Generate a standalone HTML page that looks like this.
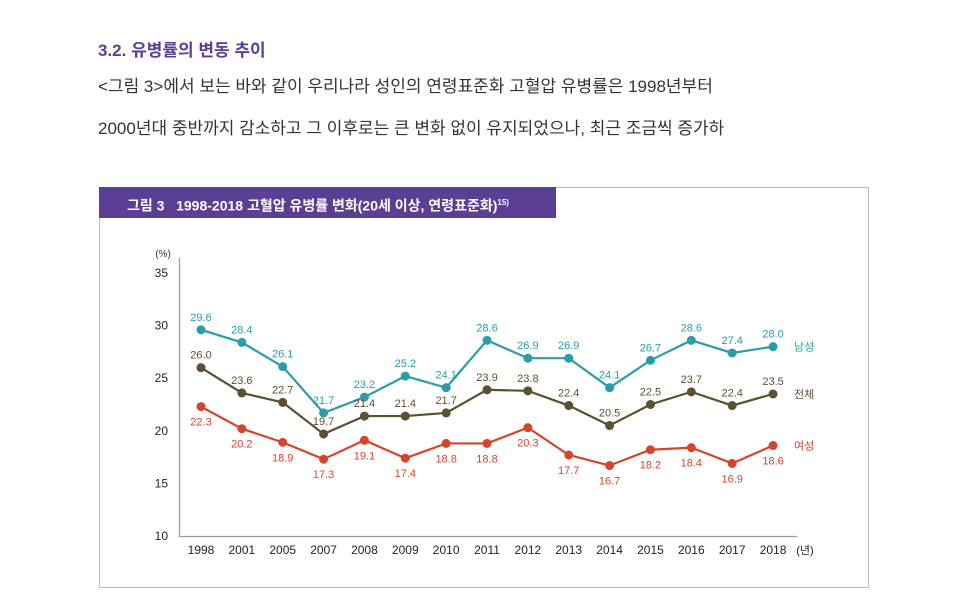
<!DOCTYPE html>
<html><head><meta charset="utf-8"><style>
body{margin:0;width:966px;height:595px;background:#fff;font-family:"Liberation Sans","Noto Sans CJK KR",sans-serif;position:relative;overflow:hidden}
.t{position:absolute;white-space:nowrap}
</style></head><body>
<div class="t" style="left:98px;top:36px;font-size:17px;font-weight:bold;color:#5b3f94">3.2. 유병률의 변동 추이</div>
<div class="t" style="left:98px;top:72px;font-size:17px;color:#333">&lt;그림 3&gt;에서 보는 바와 같이 우리나라 성인의 연령표준화 고혈압 유병률은 1998년부터</div>
<div class="t" style="left:98px;top:114px;font-size:17px;color:#333">2000년대 중반까지 감소하고 그 이후로는 큰 변화 없이 유지되었으나, 최근 조금씩 증가하</div>
<div style="position:absolute;left:99px;top:187px;width:768px;height:399px;border:1px solid #bbb"></div>
<div class="t" style="left:99px;top:187px;width:457px;height:31px;background:#5b3f94;color:#fff;font-size:14px;font-weight:bold;line-height:31px;padding-left:28px;box-sizing:border-box">그림 3&nbsp;&nbsp;&nbsp;1998-2018 고혈압 유병률 변화(20세 이상, 연령표준화)<sup style="font-size:8px">15)</sup></div>
<svg id="c" width="966" height="595" style="position:absolute;left:0;top:0"></svg>
<script>
const years=["1998","2001","2005","2007","2008","2009","2010","2011","2012","2013","2014","2015","2016","2017","2018"];
const male=[29.6,28.4,26.1,21.7,23.2,25.2,24.1,28.6,26.9,26.9,24.1,26.7,28.6,27.4,28.0];
const total=[26.0,23.6,22.7,19.7,21.4,21.4,21.7,23.9,23.8,22.4,20.5,22.5,23.7,22.4,23.5];
const female=[22.3,20.2,18.9,17.3,19.1,17.4,18.8,18.8,20.3,17.7,16.7,18.2,18.4,16.9,18.6];
const yTicks=[10,15,20,25,30,35];
const seriesNames=["남성","전체","여성"];
const svg=document.getElementById('c');const NS='http://www.w3.org/2000/svg';
const x=i=>201+i*40.86, y=v=>536-(v-10)*10.52;
function mk(t,a){const e=document.createElementNS(NS,t);for(const k in a)e.setAttribute(k,a[k]);svg.appendChild(e);return e;}
let ax=mk('path',{d:'M179.5 258 V536.5 H797',stroke:'#999',fill:'none','stroke-width':1.2});


let u=mk('text',{x:163,y:257,'font-size':10,fill:'#333','text-anchor':'middle'});u.textContent='(%)';


yTicks.forEach(v=>{const t=mk('text',{x:168,y:y(v)+4,'font-size':12,fill:'#222','text-anchor':'end'});t.textContent=v;

});
years.forEach((yr,i)=>{const t=mk('text',{x:x(i),y:554,'font-size':12,fill:'#222','text-anchor':'middle'});t.textContent=yr;

});
let xu=mk('text',{x:805,y:554,'font-size':11,fill:'#222','text-anchor':'middle'});xu.textContent='(년)';


const S=[[male,'#2a9da8',-9,'male'],[total,'#5b5030',-9,'total'],[female,'#d5452d',19,'female']];
S.forEach(([d,c,off,n],si)=>{
 const l=mk('polyline',{points:d.map((v,i)=>x(i)+','+y(v)).join(' '),fill:'none',stroke:c,'stroke-width':2.2});
 
 
 d.forEach((v,i)=>{const p=mk('circle',{cx:x(i),cy:y(v),r:4.5,fill:c});
  
  
  const t=mk('text',{x:x(i),y:y(v)+off,'font-size':11,fill:c,'text-anchor':'middle'});t.textContent=v.toFixed(1);
  
  });
 const lg=mk('text',{x:794,y:y(d[d.length-1])+4,'font-size':11,fill:c});lg.textContent=seriesNames[si];
 
 
});
</script>
</body></html>
